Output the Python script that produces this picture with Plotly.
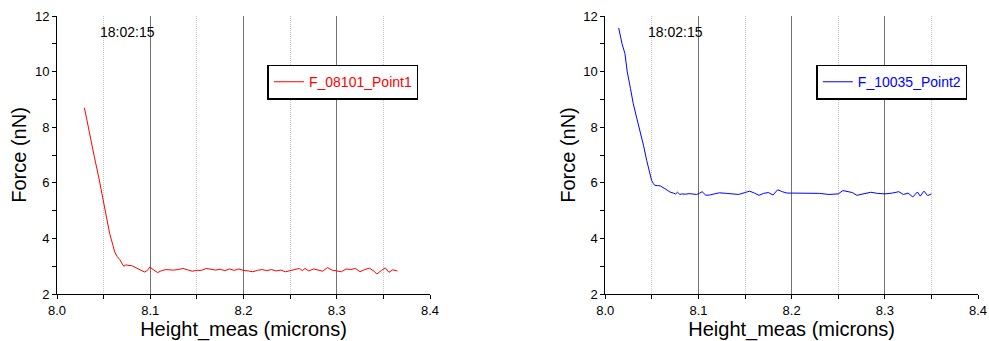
import plotly.graph_objects as go

# ---- data ----
x_left = [8.0294, 8.0340, 8.0400, 8.0447, 8.0494, 8.0530, 8.0565, 8.0600, 8.0619, 8.0645,
          8.0673, 8.0700, 8.0716, 8.0740, 8.0760, 8.0800, 8.0840, 8.0880, 8.0940, 8.0970,
          8.0995, 8.1030, 8.1080, 8.1120, 8.1170,
          8.120, 8.125, 8.130, 8.135, 8.140, 8.145, 8.150, 8.155, 8.160, 8.165,
          8.170, 8.175, 8.180, 8.185, 8.190, 8.195, 8.200, 8.205, 8.210, 8.215,
          8.220, 8.225, 8.230, 8.235, 8.240, 8.245, 8.250, 8.255, 8.260, 8.263,
          8.266, 8.270, 8.275, 8.280, 8.285, 8.290, 8.295, 8.300, 8.305, 8.310,
          8.315, 8.320, 8.325, 8.330, 8.335, 8.340, 8.343, 8.348, 8.352, 8.356,
          8.360, 8.365]
force_left = [8.70, 7.90, 6.94, 6.21, 5.37, 4.75, 4.17, 3.75, 3.51, 3.35,
              3.24, 3.08, 3.00, 3.05, 3.03, 3.02, 2.95, 2.88, 2.79, 2.85,
              2.97, 2.88, 2.77, 2.84, 2.88,
              2.87, 2.86, 2.88, 2.92, 2.87, 2.82, 2.85, 2.85, 2.92, 2.90,
              2.86, 2.89, 2.84, 2.90, 2.85, 2.90, 2.85, 2.83, 2.80, 2.85,
              2.88, 2.84, 2.88, 2.83, 2.86, 2.80, 2.85, 2.88, 2.92, 2.84,
              2.92, 2.83, 2.90, 2.85, 2.82, 2.95, 2.86, 2.83, 2.80, 2.90,
              2.88, 2.92, 2.80, 2.88, 2.93, 2.82, 2.72, 2.85, 2.94, 2.78,
              2.87, 2.83]

x_right = [8.0144, 8.0180, 8.0211, 8.0236, 8.0270, 8.0300, 8.0340, 8.0373, 8.0410, 8.0444,
           8.0470, 8.0497, 8.0515, 8.0530, 8.0560, 8.0590, 8.0640, 8.0694, 8.0730, 8.0755,
           8.0775, 8.0800, 8.0820, 8.0860, 8.0900, 8.0950, 8.0980, 8.1010, 8.1040, 8.1080,
           8.1120, 8.1170, 8.1225,
           8.130, 8.137, 8.143, 8.149, 8.155, 8.160, 8.165, 8.170, 8.175, 8.180,
           8.185, 8.190, 8.195, 8.200, 8.210, 8.220, 8.230, 8.240, 8.250, 8.255,
           8.260, 8.265, 8.270, 8.278, 8.285, 8.292, 8.300, 8.308, 8.315, 8.320,
           8.325, 8.330, 8.335, 8.338, 8.342, 8.346, 8.350]
force_right = [11.57, 11.00, 10.65, 9.99, 9.40, 8.85, 8.30, 7.89, 7.35, 6.81,
               6.45, 6.09, 5.98, 5.91, 5.90, 5.89, 5.79, 5.67, 5.63, 5.60,
               5.66, 5.58, 5.60, 5.59, 5.61, 5.60, 5.58, 5.62, 5.68, 5.55,
               5.56, 5.60, 5.64,
               5.62, 5.60, 5.58, 5.64, 5.70, 5.63, 5.55, 5.62, 5.65, 5.56,
               5.75, 5.68, 5.63, 5.63, 5.62, 5.63, 5.62, 5.58, 5.60, 5.72,
               5.69, 5.65, 5.55, 5.60, 5.66, 5.62, 5.60, 5.63, 5.68, 5.58,
               5.63, 5.49, 5.67, 5.52, 5.70, 5.54, 5.60]

name_left = "F_08101_Point1"
name_right = "F_10035_Point2"
timestamp = "18:02:15"
x_title = "Height_meas (microns)"
y_title = "Force (nN)"

FONT = "Liberation Sans, Arial, sans-serif"

fig = go.Figure()
fig.add_trace(go.Scatter(x=x_left, y=force_left, mode="lines", name=name_left,
                         line=dict(color="#ff0000", width=1), xaxis="x", yaxis="y",
                         legend="legend", showlegend=True))
fig.add_trace(go.Scatter(x=x_right, y=force_right, mode="lines", name=name_right,
                         line=dict(color="#0000ff", width=1), xaxis="x2", yaxis="y2",
                         legend="legend2", showlegend=True))

def xaxis(domain, anchor):
    return dict(domain=domain, anchor=anchor, range=[8.0, 8.4], dtick=0.1, tick0=8.0,
                tickformat=".1f", showline=True, linecolor="black", linewidth=1,
                ticks="outside", ticklen=4, tickcolor="black", automargin=False,
                showgrid=True, gridcolor="#727272", gridwidth=1, zeroline=False,
                minor=dict(dtick=0.05, tick0=8.0, ticks="outside", ticklen=4, tickcolor="black",
                           showgrid=True, gridcolor="#c4c4c4", griddash="1px,1px", gridwidth=1),
                tickfont=dict(size=13, color="black", family=FONT),
                title=dict(text=x_title, font=dict(size=20, color="black", family=FONT), standoff=4))

def yaxis(anchor):
    return dict(domain=[0, 1], anchor=anchor, range=[2, 12], dtick=2,
                showline=True, linecolor="black", linewidth=1, automargin=False,
                ticks="outside", ticklen=4, tickcolor="black",
                showgrid=False, zeroline=False,
                minor=dict(dtick=1, tick0=0, ticks="outside", ticklen=4, tickcolor="black", showgrid=False),
                tickfont=dict(size=13, color="black", family=FONT),
                title=dict(text=y_title, font=dict(size=20, color="black", family=FONT), standoff=2))

fig.update_layout(
    width=989, height=341,
    margin=dict(l=57, r=11, t=16, b=47),
    paper_bgcolor="white", plot_bgcolor="white",
    showlegend=True,
    xaxis=xaxis([0, 0.405], "y"),
    yaxis=yaxis("x"),
    xaxis2=xaxis([0.5953, 1.0], "y2"),
    yaxis2=yaxis("x2"),
    legend=dict(x=0.2285, y=0.825, xanchor="left", yanchor="top", visible=True,
                bordercolor="black", borderwidth=1.5, bgcolor="white",
                font=dict(size=14, color="#ff0000", family=FONT),
                tracegroupgap=0, itemwidth=30),
    legend2=dict(x=0.8245, y=0.825, xanchor="left", yanchor="top", visible=True,
                 bordercolor="black", borderwidth=1.5, bgcolor="white",
                 font=dict(size=14, color="#0000ff", family=FONT),
                 tracegroupgap=0, itemwidth=30),
    annotations=[
        dict(text=timestamp, x=8.0755, y=11.44, xref="x", yref="y", showarrow=False,
             font=dict(size=14, color="black", family=FONT)),
        dict(text=timestamp, x=8.0755, y=11.44, xref="x2", yref="y2", showarrow=False,
             font=dict(size=14, color="black", family=FONT)),
    ],
)

fig.write_html("out.html", config={"displayModeBar": False},
               post_script="document.body.style.margin='0';document.body.style.overflow='hidden';")
